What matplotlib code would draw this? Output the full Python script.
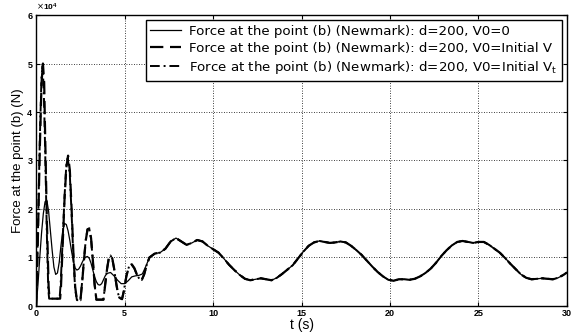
"""force at point (b), Newmark, three initial velocities"""
import matplotlib
import matplotlib.pyplot as plt
import numpy as np
from matplotlib.ticker import ScalarFormatter

matplotlib.use('Agg')
plt.rcParams['font.family'] = ['Liberation Sans', 'DejaVu Sans']
plt.rcParams['mathtext.fontset'] = 'custom'
plt.rcParams['mathtext.rm'] = 'DejaVu Sans'

# common tail, all three runs coincide after ~6.4 s  (force in 1e4 N)
t_tail = [6.4, 6.7, 7.0, 7.3, 7.6, 7.9, 8.2, 8.5, 8.8, 9.1, 9.4, 9.7, 10.0, 10.3,
          10.6, 10.9, 11.2, 11.5, 11.8, 12.1, 12.4, 12.7, 13.0, 13.3, 13.6, 13.9,
          14.2, 14.5, 14.8, 15.1, 15.4, 15.7, 16.0, 16.3, 16.6, 16.9, 17.2, 17.5,
          17.8, 18.1, 18.4, 18.7, 19.0, 19.3, 19.6, 19.9, 20.2, 20.5, 20.8, 21.1,
          21.4, 21.7, 22.0, 22.3, 22.6, 22.9, 23.2, 23.5, 23.8, 24.1, 24.4, 24.7,
          25.0, 25.3, 25.6, 25.9, 26.2, 26.5, 26.8, 27.1, 27.4, 27.7, 28.0, 28.3,
          28.6, 28.9, 29.2, 29.5, 29.8, 30.0]
f_tail = [1.00, 1.08, 1.10, 1.18, 1.33, 1.40, 1.33, 1.26, 1.30, 1.36, 1.33, 1.24, 1.17, 1.10,
          0.98, 0.85, 0.74, 0.64, 0.56, 0.53, 0.55, 0.57, 0.55, 0.53, 0.58, 0.66,
          0.75, 0.84, 0.98, 1.12, 1.24, 1.31, 1.34, 1.32, 1.30, 1.31, 1.33, 1.31,
          1.24, 1.15, 1.05, 0.93, 0.81, 0.70, 0.61, 0.54, 0.52, 0.55, 0.55, 0.54,
          0.56, 0.61, 0.68, 0.77, 0.89, 1.03, 1.15, 1.25, 1.32, 1.34, 1.32, 1.30,
          1.32, 1.32, 1.26, 1.18, 1.10, 0.99, 0.87, 0.76, 0.65, 0.58, 0.55, 0.56,
          0.57, 0.56, 0.55, 0.58, 0.64, 0.69]

# V0 = 0
t_v0 = [0.0, 0.1, 0.2, 0.3, 0.4, 0.5, 0.6, 0.7, 0.8, 0.9, 1.0, 1.1, 1.2, 1.3, 1.4,
        1.5, 1.6, 1.7, 1.8, 1.9, 2.0, 2.1, 2.2, 2.3, 2.4, 2.5, 2.6, 2.7, 2.8, 2.9,
        3.0, 3.1, 3.2, 3.3, 3.4, 3.5, 3.6, 3.7, 3.8, 3.9, 4.0, 4.2, 4.4, 4.6, 4.8,
        5.0, 5.2, 5.4, 5.6, 5.8, 6.0, 6.2]
f_v0 = [0.0, 0.45, 1.0, 1.5, 1.9, 2.15, 2.18, 1.95, 1.55, 1.15, 0.8, 0.65, 0.68, 0.9, 1.25,
        1.55, 1.7, 1.68, 1.55, 1.35, 1.12, 0.92, 0.78, 0.74, 0.76, 0.82, 0.9, 0.97, 1.01, 1.02,
        0.98, 0.88, 0.74, 0.6, 0.5, 0.44, 0.43, 0.46, 0.54, 0.62, 0.67, 0.69, 0.62, 0.53, 0.46,
        0.46, 0.52, 0.6, 0.62, 0.63, 0.66, 0.82]

# V0 = initial V
t_vi = [0.0, 0.1, 0.2, 0.3, 0.38, 0.45, 0.5, 0.6, 0.7, 0.75, 1.35, 1.4, 1.5, 1.6, 1.7,
        1.8, 1.9, 2.0, 2.1, 2.2, 2.3, 2.5, 2.6, 2.7, 2.8, 2.9, 3.0, 3.1, 3.2, 3.3,
        3.4, 3.8, 3.9, 4.0, 4.1, 4.2, 4.3, 4.4, 4.5, 4.6, 4.7, 4.85, 4.95, 5.1, 5.25,
        5.4, 5.55, 5.7, 5.85, 5.97, 6.1, 6.25]
f_vi = [0.0, 1.5, 3.2, 4.6, 5.0, 4.6, 3.6, 1.8, 0.4, 0.15, 0.15, 0.4, 1.3, 2.2, 2.85,
        3.1, 2.8, 2.0, 1.1, 0.4, 0.12, 0.12, 0.5, 0.95, 1.35, 1.58, 1.6, 1.4, 0.95, 0.45,
        0.13, 0.13, 0.45, 0.75, 0.98, 1.05, 0.98, 0.78, 0.52, 0.3, 0.17, 0.14, 0.3, 0.62, 0.82,
        0.86, 0.78, 0.64, 0.55, 0.54, 0.65, 0.85]

# V0 = initial Vt
t_vt = [0.0, 0.1, 0.2, 0.3, 0.36, 0.43, 0.5, 0.6, 0.68, 0.73, 1.32, 1.38, 1.5, 1.6, 1.7,
        1.78, 1.9, 2.0, 2.1, 2.2, 2.3, 2.5, 2.6, 2.7, 2.8, 2.9, 3.0, 3.1, 3.2, 3.3,
        3.4, 3.8, 3.9, 4.0, 4.1, 4.2, 4.3, 4.4, 4.5, 4.6, 4.7, 4.85, 4.95, 5.1, 5.25,
        5.4, 5.55, 5.7, 5.85, 5.97, 6.1, 6.25]
f_vt = [0.0, 1.6, 3.4, 4.75, 4.95, 4.4, 3.3, 1.5, 0.35, 0.15, 0.15, 0.45, 1.4, 2.25, 2.9,
        3.05, 2.7, 1.9, 1.0, 0.35, 0.12, 0.12, 0.52, 0.97, 1.36, 1.58, 1.59, 1.38, 0.93, 0.44,
        0.13, 0.13, 0.46, 0.76, 0.98, 1.04, 0.97, 0.77, 0.51, 0.29, 0.17, 0.14, 0.31, 0.63, 0.82,
        0.85, 0.77, 0.63, 0.55, 0.54, 0.65, 0.85]

labels = ['Force at the point (b) (Newmark): d=200, V0=0',
          'Force at the point (b) (Newmark): d=200, V0=Initial V',
          'Force at the point (b) (Newmark): d=200, V0=Initial V$_\\mathrm{t}$']

fig = plt.figure(figsize=(5.75, 3.34), dpi=100)
ax = fig.add_axes([0.063, 0.084, 0.923, 0.871])

scale = 1e4
ax.plot(t_v0 + t_tail, np.array(f_v0 + f_tail) * scale, color='black', lw=0.9,
        ls='-', label=labels[0])
ax.plot(t_vi + t_tail, np.array(f_vi + f_tail) * scale, color='black', lw=1.6,
        ls=(0, (6, 3)), label=labels[1])
ax.plot(t_vt + t_tail, np.array(f_vt + f_tail) * scale, color='black', lw=1.4,
        ls=(0, (5, 2, 1, 2)), label=labels[2])

ax.set_xlim(0, 30)
ax.set_ylim(0, 6e4)
ax.set_xticks([0, 5, 10, 15, 20, 25, 30])
ax.set_yticks([0, 1e4, 2e4, 3e4, 4e4, 5e4, 6e4])
fmt = ScalarFormatter(useMathText=True)
fmt.set_powerlimits((0, 0))
ax.yaxis.set_major_formatter(fmt)
ax.yaxis.get_offset_text().set_fontsize(6)
ax.yaxis.get_offset_text().set_fontweight('bold')
ax.tick_params(direction='in', length=3, labelsize=6.5, top=True, right=True, pad=2)
for lab in ax.get_xticklabels() + ax.get_yticklabels():
    lab.set_fontweight('bold')
ax.grid(True, color='black', ls=(0, (1, 2)), lw=0.6)
for s in ax.spines.values():
    s.set_linewidth(1.0)

ax.set_xlabel('t (s)', fontsize=10, labelpad=0)
ax.set_ylabel('Force at the point (b) (N)', fontsize=9.5, labelpad=2)

leg = ax.legend(loc='upper right', frameon=True, fancybox=False,
                prop={'family': 'DejaVu Sans', 'size': 9.6},
                framealpha=1, edgecolor='black', handlelength=2.3,
                borderaxespad=0.4, labelspacing=0.3, borderpad=0.35,
                handletextpad=0.6)
leg.get_frame().set_linewidth(1.0)

fig.savefig('out.png', dpi=100)
